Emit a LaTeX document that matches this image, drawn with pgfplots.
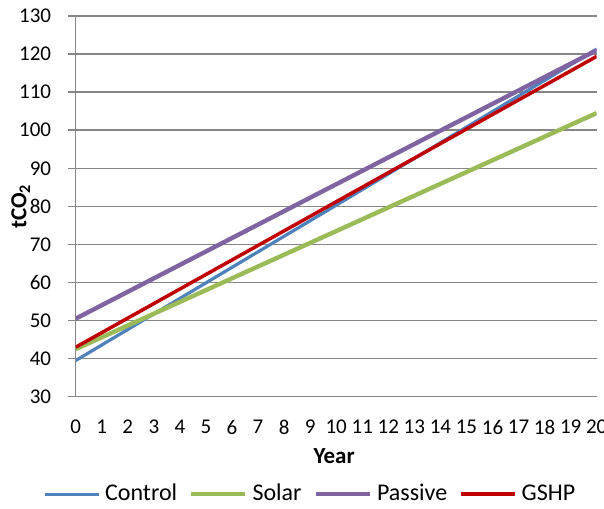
\documentclass[border=0pt]{standalone}
\usepackage{pgfplots}
\pgfplotsset{compat=1.18}
\usepackage{fontspec}
\setmainfont{Carlito}
\definecolor{cCtrl}{HTML}{4F81BD}
\definecolor{cSolar}{HTML}{9BBB59}
\definecolor{cPass}{HTML}{8064A2}
\definecolor{cGSHP}{HTML}{C00000}
\definecolor{gridgray}{HTML}{868686}
\begin{document}
\begin{tikzpicture}
\path[use as bounding box] (-37.85pt,-55.65pt) rectangle (264.15pt,198.35pt);
\begin{axis}[
  at={(0,0)}, anchor=south west,
  scale only axis,
  width=260.5pt, height=190.35pt,
  xmin=0, xmax=20, ymin=30, ymax=130,
  axis x line*=bottom, axis y line*=left,
  axis line style={gridgray, line width=0.75pt, -},
  xtick={0,1,...,20},
  ytick={30,40,...,130},
  ymajorgrids,
  grid style={gridgray, line width=0.75pt},
  tick align=outside,
  x tick style={draw=none},
  y tick style={gridgray, line width=0.75pt},
  major tick length=3.6pt,
  extra x ticks={0,2,...,20},
  extra x tick labels={},
  extra x tick style={grid=none, major tick length=2.2pt, tick style={draw=gridgray, line width=0.75pt}},
  /pgf/number format/assume math mode=true,
  tick label style={font=\fontsize{10.5pt}{12pt}\selectfont, text=black},
  xticklabel style={inner sep=0pt, anchor=north, yshift=-8pt},
  yticklabel style={inner sep=0pt, anchor=east, xshift=-8.5pt},
  xlabel={\textbf{Year}},
  ylabel={\textbf{tCO\textsubscript{2}}},
  label style={font=\fontsize{11.5pt}{13pt}\selectfont},
  xlabel style={at={(axis description cs:0.496,-0.156)}, anchor=center},
  ylabel style={at={(axis description cs:-0.1056,0.5)}, anchor=center},
  legend columns=4,
  legend style={at={(axis description cs:0.448,-0.256)}, anchor=center,
    draw=none, fill=none, font=\fontsize{12pt}{14pt}\selectfont,
    nodes={inner sep=0pt},
    /tikz/every odd column/.append style={column sep=2.5pt},
    /tikz/every even column/.append style={column sep=6pt}},
  legend image code/.code={\draw[#1] (0pt,0pt) -- (27pt,0pt);},
]
\addplot[cCtrl, line width=1.6pt] coordinates {(0,39.5) (10,80.3) (20,121.3)};
\addlegendentry{Control}
\addplot[cSolar, line width=2.2pt] coordinates {(0,42.5) (10,73.5) (20,104.5)};
\addlegendentry{Solar}
\addplot[cPass, line width=2.2pt] coordinates {(0,50.5) (10,85.8) (20,121.0)};
\addlegendentry{Passive}
\addplot[cGSHP, line width=1.75pt] coordinates {(0,43.0) (10,81.2) (20,119.4)};
\addlegendentry{GSHP}
\end{axis}
\end{tikzpicture}
\end{document}
